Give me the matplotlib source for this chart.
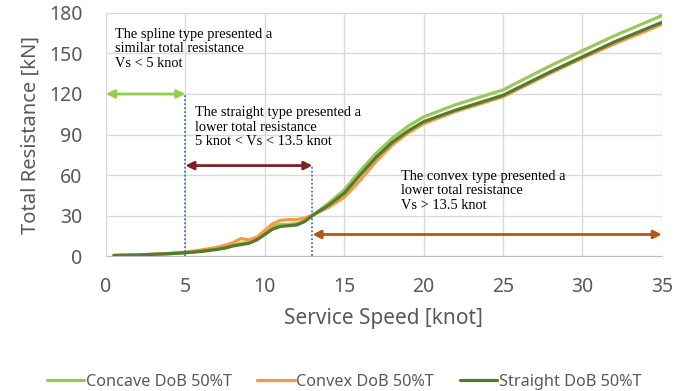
import matplotlib
matplotlib.use("Agg")
import matplotlib.pyplot as plt

# service speed [knot]
speed = [0.5, 2, 4, 5, 6, 7, 7.5, 8, 8.5, 9, 9.5, 10, 10.5, 11, 11.5, 12, 12.5, 13,
         14, 15, 16, 17, 18, 19, 20, 22, 25, 28, 30, 32, 35]

# total resistance [kN]
concave = [0.5, 0.8, 1.8, 2.5, 3.5, 5, 6, 8, 9.5, 10, 13, 18.5, 22, 23.5, 23.5, 24, 26, 30,
           39, 49, 63, 76, 87, 96, 103, 112, 123, 141, 152, 163, 178]
convex = [0.5, 0.9, 2, 3, 4.5, 6.5, 8, 10, 13, 12, 14, 19, 24, 26.5, 27, 27, 28, 30.5,
          36, 43.5, 56, 70, 82, 91, 98, 107, 118, 135.5, 146.5, 157, 171.5]
straight = [0.5, 0.8, 1.8, 2.5, 3.5, 5, 6, 7.5, 8.5, 9.5, 12, 16, 20, 22, 22.5, 23, 25.5, 30,
            37.5, 46.5, 60, 73, 84, 92.5, 99.5, 108, 119, 136.5, 147.5, 158.5, 173]

labels = ["Concave DoB 50%T", "Convex DoB 50%T", "Straight DoB 50%T"]
colors = ["#9BC85A", "#F79A46", "#557A2E"]

fig = plt.figure(figsize=(6.88, 3.91), dpi=100)
ax = fig.add_axes([0.154, 0.345, 0.808, 0.622])

for y, lab, c in zip([concave, convex, straight], labels, colors):
    ax.plot(speed, y, color=c, lw=2.3, label=lab, solid_capstyle="round")

ax.set_xlim(0, 35)
ax.set_ylim(0, 180)
ax.set_xticks(range(0, 36, 5))
ax.set_yticks(range(0, 181, 30))
ax.grid(color="#D9D9D9", lw=1)
ax.set_axisbelow(True)
for s in ax.spines.values():
    s.set_visible(False)
ax.spines["bottom"].set_visible(True)
ax.spines["bottom"].set_color("#BFBFBF")
ax.tick_params(length=0, labelsize=14, labelcolor="#595959")
ax.tick_params(axis="y", pad=17)
ax.tick_params(axis="x", pad=15)
for t in ax.get_xticklabels() + ax.get_yticklabels():
    t.set_fontfamily("Noto Sans")

ax.set_xlabel("Service Speed [knot]", fontsize=15, color="#595959", family="Noto Sans", labelpad=8)
ax.set_ylabel("Total Resistance [kN]", fontsize=14.5, color="#595959", family="Noto Sans", labelpad=6)

# annotations
dot = dict(color="#4472C4", lw=1.3, ls=(0, (1, 1.2)))
ax.plot([5, 5], [0, 120], **dot)
ax.plot([13, 13], [0, 67], **dot)

def darrow(x0, x1, y, c):
    ax.annotate("", xy=(x1, y), xytext=(x0, y),
                arrowprops=dict(arrowstyle="<|-|>", color=c, lw=2, mutation_scale=12,
                                shrinkA=0, shrinkB=0))

darrow(0, 5, 120, "#92D050")
darrow(5, 13, 67, "#7B2424")
darrow(13, 35, 16, "#B8560F")

tfont = dict(family="Liberation Serif", fontsize=10.4, va="top", linespacing=1.15)
ax.text(0.6, 169, "The spline type presented a\nsimilar total resistance\nVs < 5 knot", **tfont)
ax.text(5.6, 111, "The straight type presented a\nlower total resistance\n5 knot < Vs < 13.5 knot", **tfont)
ax.text(18.6, 64, "The convex type presented a\nlower total resistance\nVs > 13.5 knot", **tfont)

fig.legend(loc="lower center", bbox_to_anchor=(0.5, -0.035), ncol=3, frameon=False,
           prop={"family": "Noto Sans", "size": 11.7}, labelcolor="#595959",
           handlelength=2.3, handletextpad=0.1, columnspacing=1.6)

fig.savefig("out.png", dpi=100)
